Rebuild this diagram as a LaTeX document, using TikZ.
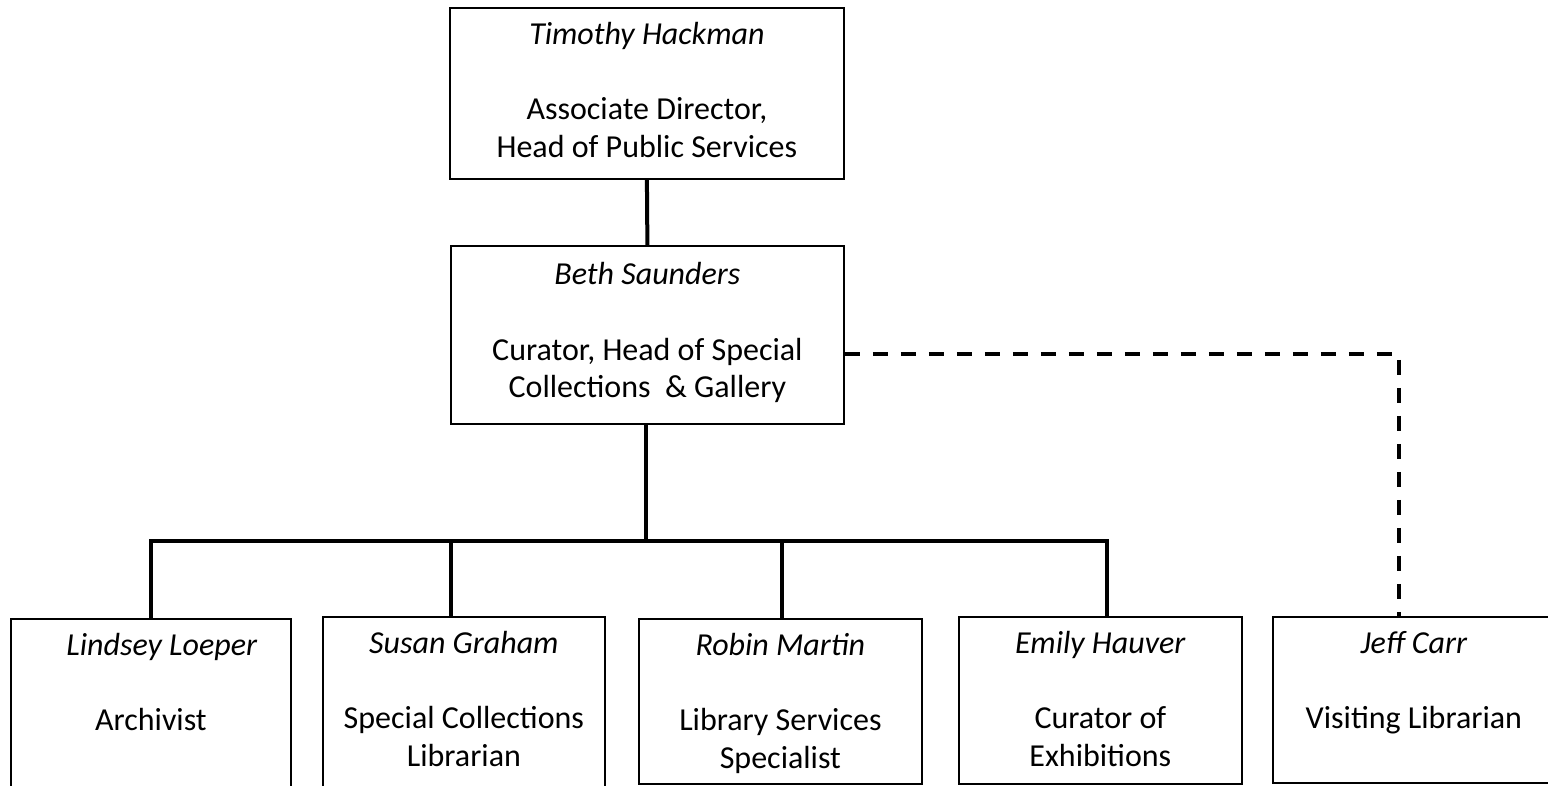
\documentclass[tikz,border=0pt]{standalone}
\usepackage{fontspec}
\setmainfont{Carlito}
\tikzset{
  orgbox/.style={draw, line width=1.8pt, inner sep=0pt, anchor=north west},
  conn/.style={line width=4pt},
  dashconn/.style={line width=4pt, dash pattern=on 15pt off 13pt},
}
\newcommand{\orgtext}[4]{\parbox[c][#2pt][t]{#1pt}{\centering\fontsize{32}{37.5}\selectfont\rule{0pt}{#3pt}#4}}
\begin{document}
\begin{tikzpicture}[x=1pt,y=1pt]
\useasboundingbox (0,0) rectangle (1548,786);
\clip (0,0) rectangle (1548,786);
\node[orgbox] (top) at (449,779) {\orgtext{394}{171}{37}{\textit{Timothy Hackman}\\[37.5pt]Associate Director,\\Head of Public Services}};
\node[orgbox] (beth) at (450,541) {\orgtext{393}{178}{39}{\textit{Beth Saunders}\\[38pt]Curator, Head of Special\\Collections\ \ \& Gallery}};
\node[orgbox] (lind) at (10,168) {\orgtext{280}{190}{37}{\hspace*{22pt}\textit{Lindsey Loeper}\\[37.5pt]Archivist}};
\node[orgbox] (susan) at (322,170) {\orgtext{282}{190}{37}{\textit{Susan Graham}\\[37.5pt]Special Collections\\Librarian}};
\node[orgbox] (robin) at (638,168) {\orgtext{283}{165}{37}{\textit{Robin Martin}\\[37.5pt]Library Services\\Specialist}};
\node[orgbox] (emily) at (958,170) {\orgtext{283}{167}{37}{\textit{Emily Hauver}\\[37.5pt]Curator of\\Exhibitions}};
\node[orgbox] (jeff) at (1272,170) {\orgtext{292}{166}{37}{\hspace*{-10pt}\textit{Jeff Carr}\\[37.5pt]\hspace*{-10pt}Visiting Librarian}};
\coordinate (bus) at (645,245);
\coordinate (dS) at ([xshift=-13pt]susan.north);
\coordinate (dR) at ([xshift=1.5pt]robin.north);
\coordinate (dE) at ([xshift=6.5pt]emily.north);
\coordinate (dJ) at ([xshift=-20pt]jeff.north);
\draw[conn] (top.south) -- (beth.north);
\draw[conn] ([xshift=-1.5pt]beth.south) -- ([xshift=-1.5pt]beth.south |- bus);
\draw[conn] (lind.north) -- (lind.north |- bus) -- (dE |- bus) -- (dE);
\draw[conn] (dS |- bus) -- (dS);
\draw[conn] (dR |- bus) -- (dR);
\draw[dashconn] ([yshift=-19pt]beth.east) -| (dJ);
\end{tikzpicture}
\end{document}
